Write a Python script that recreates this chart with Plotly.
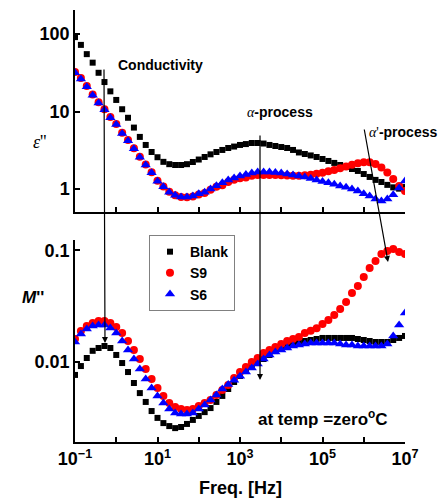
import plotly.graph_objects as go

# Measurement frequencies (Hz), 7 points per decade from 0.1 Hz to 10 MHz
freq_hz = [
    1.00e-1, 1.39e-1, 1.93e-1, 2.68e-1, 3.73e-1, 5.18e-1, 7.20e-1,
    1.00e0, 1.39e0, 1.93e0, 2.68e0, 3.73e0, 5.18e0, 7.20e0,
    1.00e1, 1.39e1, 1.93e1, 2.68e1, 3.73e1, 5.18e1, 7.20e1,
    1.00e2, 1.39e2, 1.93e2, 2.68e2, 3.73e2, 5.18e2, 7.20e2,
    1.00e3, 1.39e3, 1.93e3, 2.68e3, 3.73e3, 5.18e3, 7.20e3,
    1.00e4, 1.39e4, 1.93e4, 2.68e4, 3.73e4, 5.18e4, 7.20e4,
    1.00e5, 1.39e5, 1.93e5, 2.68e5, 3.73e5, 5.18e5, 7.20e5,
    1.00e6, 1.39e6, 1.93e6, 2.68e6, 3.73e6, 5.18e6, 7.20e6,
    1.00e7,
]

# Dielectric loss  eps''
eps_blank = [
    91.2, 72.4, 55.0, 42.7, 31.6, 24.0, 18.2, 14.1, 10.7, 8.3,
    6.2, 4.7, 3.7, 3.0, 2.57, 2.24, 2.09, 2.04, 2.04, 2.09,
    2.23, 2.40, 2.59, 2.80, 3.00, 3.19, 3.38, 3.53, 3.70, 3.80,
    3.92, 3.92, 3.86, 3.70, 3.59, 3.48, 3.38, 3.19, 2.96, 2.83,
    2.71, 2.59, 2.44, 2.30, 2.17, 2.04, 1.92, 1.81, 1.71, 1.56,
    1.43, 1.31, 1.23, 1.13, 1.05, 1.01, 1.06,
]
eps_s9 = [
    32.4, 27.0, 21.4, 16.6, 13.2, 10.7, 8.5, 6.9, 5.3, 4.3,
    3.35, 2.6, 2.07, 1.64, 1.28, 1.08, 0.92, 0.83, 0.79, 0.78,
    0.80, 0.85, 0.89, 0.98, 1.07, 1.12, 1.23, 1.32, 1.38, 1.41,
    1.48, 1.51, 1.51, 1.51, 1.51, 1.50, 1.49, 1.48, 1.48, 1.50,
    1.53, 1.57, 1.62, 1.69, 1.76, 1.85, 1.95, 2.06, 2.15, 2.22,
    2.22, 2.10, 1.90, 1.63, 1.35, 1.09, 0.94,
]
eps_s6 = [
    31.6, 26.3, 20.9, 16.2, 12.9, 10.5, 8.3, 6.8, 5.2, 4.2,
    3.3, 2.57, 2.04, 1.62, 1.26, 1.07, 0.91, 0.83, 0.79, 0.79,
    0.81, 0.87, 0.91, 1.00, 1.10, 1.20, 1.31, 1.39, 1.47, 1.54,
    1.61, 1.66, 1.66, 1.66, 1.63, 1.61, 1.56, 1.52, 1.47, 1.43,
    1.37, 1.31, 1.25, 1.20, 1.15, 1.09, 1.05, 1.00, 0.94, 0.87,
    0.81, 0.74, 0.70, 0.74, 0.84, 1.03, 1.27,
]

# Electric modulus  M''
m_blank = [
    0.00766, 0.00920, 0.01086, 0.01259, 0.01334, 0.01390, 0.01334, 0.01156, 0.00979, 0.00813,
    0.00649, 0.00527, 0.00439, 0.00364, 0.00316, 0.00284, 0.00267, 0.00256, 0.00262, 0.00279,
    0.00303, 0.00329, 0.00356, 0.00387, 0.00439, 0.00497, 0.00573, 0.00662, 0.00750, 0.00830,
    0.00902, 0.00979, 0.01064, 0.01156, 0.01253, 0.01334, 0.01390, 0.01449, 0.01510, 0.01542,
    0.01574, 0.01607, 0.01641, 0.01641, 0.01641, 0.01641, 0.01641, 0.01641, 0.01607, 0.01574,
    0.01542, 0.01510, 0.01510, 0.01510, 0.01574, 0.01641, 0.01710,
]
m_s9 = [
    0.01607, 0.01897, 0.02099, 0.02234, 0.02328, 0.02328, 0.02234, 0.02056, 0.01820, 0.01542,
    0.01279, 0.01064, 0.00865, 0.00705, 0.00585, 0.00497, 0.00430, 0.00395, 0.00379, 0.00372,
    0.00379, 0.00404, 0.00430, 0.00457, 0.00507, 0.00561, 0.00622, 0.00719, 0.00813, 0.00902,
    0.01000, 0.01086, 0.01205, 0.01279, 0.01361, 0.01449, 0.01542, 0.01607, 0.01675, 0.01820,
    0.01900, 0.02010, 0.02190, 0.02380, 0.02640, 0.02980, 0.03450, 0.04150, 0.04790, 0.05770,
    0.06950, 0.08020, 0.09270, 0.09860, 0.10280, 0.09660, 0.09270,
]
m_s6 = [
    0.01510, 0.01782, 0.01972, 0.02099, 0.02143, 0.02143, 0.02014, 0.01820, 0.01542, 0.01279,
    0.01064, 0.00865, 0.00705, 0.00585, 0.00497, 0.00430, 0.00379, 0.00349, 0.00342, 0.00342,
    0.00349, 0.00379, 0.00412, 0.00457, 0.00507, 0.00573, 0.00630, 0.00685, 0.00745, 0.00813,
    0.00883, 0.00959, 0.01064, 0.01156, 0.01230, 0.01279, 0.01334, 0.01390, 0.01419, 0.01449,
    0.01479, 0.01479, 0.01479, 0.01479, 0.01479, 0.01449, 0.01419, 0.01419, 0.01390, 0.01390,
    0.01390, 0.01390, 0.01390, 0.01449, 0.01710, 0.02143, 0.02748,
]

sample_names = ["Blank", "S9", "S6"]
x_tick_vals = [1e-1, 1e0, 1e1, 1e2, 1e3, 1e4, 1e5, 1e6, 1e7]
x_tick_text = ["<b>10<sup>−1</sup></b>", "", "<b>10<sup>1</sup></b>", "",
               "<b>10<sup>3</sup></b>", "", "<b>10<sup>5</sup></b>", "",
               "<b>10<sup>7</sup></b>"]
eps_tick_vals = [1, 10, 100]
eps_tick_text = ["<b>1</b>", "<b>10</b>", "<b>100</b>"]
m_tick_vals = [0.01, 0.1]
m_tick_text = ["<b>0.01</b>", "<b>0.1</b>"]

SANS = "Arial, 'Liberation Sans', sans-serif"
SERIF = "'Times New Roman', 'Liberation Serif', serif"

styles = {
    "Blank": dict(symbol="square", size=6, color="#000000"),
    "S9": dict(symbol="circle", size=8, color="#ff0000"),
    "S6": dict(symbol="triangle-up", size=9, color="#0000ff"),
}
eps_data = {"Blank": eps_blank, "S9": eps_s9, "S6": eps_s6}
m_data = {"Blank": m_blank, "S9": m_s9, "S6": m_s6}

fig = go.Figure()

for name in sample_names:
    fig.add_trace(go.Scatter(
        x=freq_hz, y=eps_data[name], mode="markers", name=name,
        marker=styles[name], xaxis="x", yaxis="y", showlegend=False,
    ))
for name in sample_names:
    fig.add_trace(go.Scatter(
        x=freq_hz, y=m_data[name], mode="markers", name=f"<b>{name}</b>",
        marker=styles[name], xaxis="x2", yaxis="y2", showlegend=True,
    ))

axis_common = dict(
    showline=True, linecolor="black", linewidth=1.5,
    ticks="inside", ticklen=5, tickwidth=1.5, tickcolor="black",
    showgrid=False, zeroline=False, mirror=False,
    tickfont=dict(family=SANS, size=18, color="black"),
)

fig.update_layout(
    width=440, height=504,
    margin=dict(l=75, r=35, t=10, b=62),
    paper_bgcolor="white", plot_bgcolor="white",
    xaxis=dict(type="log", range=[-1, 7], domain=[0, 1], anchor="y",
               tickvals=x_tick_vals, showticklabels=False, **axis_common),
    yaxis=dict(type="log", range=[-0.297, 2.31], domain=[0.5324, 1.0], anchor="x",
               tickvals=eps_tick_vals, ticktext=eps_tick_text, **axis_common),
    xaxis2=dict(type="log", range=[-1, 7], domain=[0, 1], anchor="y2",
                tickvals=x_tick_vals, ticktext=x_tick_text, **axis_common),
    yaxis2=dict(type="log", range=[-2.716, -0.908], domain=[0, 0.4676], anchor="x2",
                tickvals=m_tick_vals, ticktext=m_tick_text, **axis_common),
    legend=dict(x=0.2242, y=0.479, xanchor="left", yanchor="top",
                bgcolor="white", bordercolor="#808080", borderwidth=1,
                font=dict(family=SANS, size=14, color="black"),
                tracegroupgap=0),
    showlegend=True,
)

arrow = dict(showarrow=True, arrowhead=2, arrowsize=1, arrowwidth=1.2,
             arrowcolor="black", text="", axref="pixel", ayref="pixel", standoff=0)


def label(x, y, text, size, family=SANS):
    return dict(x=x, y=y, xref="paper", yref="paper", showarrow=False,
                xanchor="center", yanchor="middle", text=text,
                font=dict(family=family, size=size, color="black"))


alpha = "<span style=\"font-family:'Liberation Serif', serif\"><i>α</i></span>"
alpha_p = "<span style=\"font-family:'Liberation Serif', serif\"><i>α</i>'</span>"

annotations = [
    # Conductivity marker line down to the Blank modulus peak
    dict(x=-0.273, y=-1.83, xref="x2", yref="y2", ax=-1, ay=-275, **arrow),
    # alpha-process
    dict(x=3.485, y=-2.161, xref="x2", yref="y2", ax=0, ay=-246, **arrow),
    # alpha'-process
    dict(x=6.588, y=-1.105, xref="x2", yref="y2", ax=-24, ay=-134, **arrow),
    label(0.2606, 0.8727, "<b>Conductivity</b>", 14),
    label(0.621, 0.7639, alpha + "<b>-process</b>", 14),
    label(0.9939, 0.7176, alpha_p + "<b>-process</b>", 14),
    label(0.753, 0.0556, "<b>at temp =zero<sup>o</sup>C</b>", 17),
    label(0.5, -0.1065, "<b>Freq. [Hz]</b>", 18),
    label(-0.106, 0.694, "<i>ε</i>''", 18, SERIF),
    label(-0.127, 0.3356, "<b><i>M</i>''</b>", 17),
]
fig.update_layout(annotations=annotations)

fig.write_html("out.html")
